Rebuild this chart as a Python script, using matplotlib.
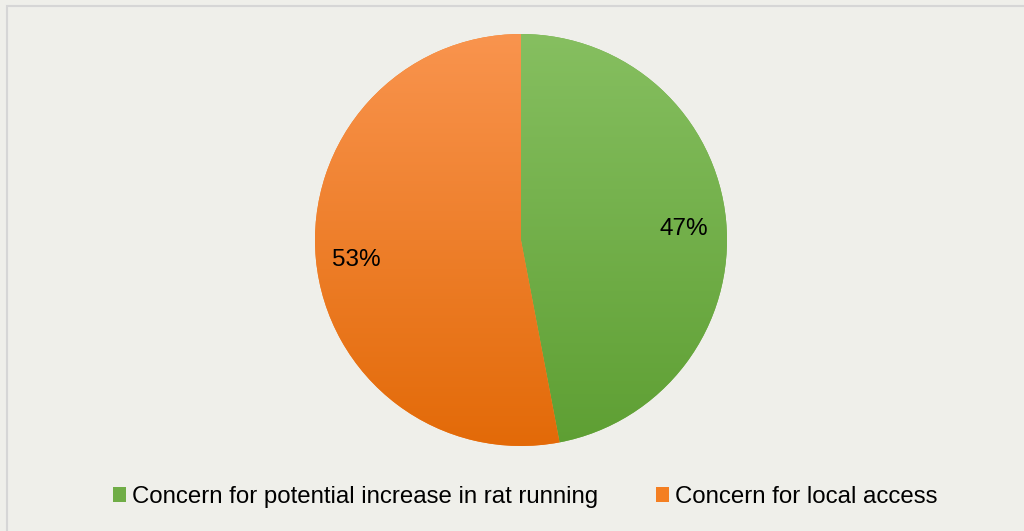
import matplotlib
matplotlib.use("Agg")
import matplotlib.pyplot as plt
import matplotlib.transforms as mtransforms
import numpy as np
from matplotlib.patches import Patch, Rectangle
from matplotlib.colors import LinearSegmentedColormap

categories = ["Concern for potential increase in rat running", "Concern for local access"]
values = [47, 53]
top_colors = ["#86BF60", "#F9944E"]
bottom_colors = ["#5E9F33", "#E36A08"]
mid_colors = ["#70AD47", "#F47F22"]

W, H = 1024, 531
fig = plt.figure(figsize=(W / 100, H / 100), dpi=100)
fig.patch.set_facecolor("#EFEFEA")
ax = fig.add_axes([0, 0, 1, 1])

cx, cy, r = 521, H - 240, 206
wedges, texts, autotexts = ax.pie(
    values, center=(cx, cy), radius=r, startangle=90, counterclock=False,
    autopct="%1.0f%%", pctdistance=0.8, colors=mid_colors, frame=True,
    textprops=dict(family="Liberation Sans", fontsize=17.5, color="black"),
    wedgeprops=dict(linewidth=0),
)
ax.set_xlim(0, W)
ax.set_ylim(0, H)
ax.set_aspect("equal")
ax.axis("off")

# chart border
ax.add_patch(Rectangle((6.5, -20), W + 20, H - 5.5 + 20, fill=False, edgecolor="#D6D6D6", linewidth=1.5, zorder=0))

grad = np.linspace(1, 0, 256).reshape(-1, 1)
for w, tc, bc in zip(wedges, top_colors, bottom_colors):
    cmap = LinearSegmentedColormap.from_list("g", [bc, tc])
    im = ax.imshow(grad, cmap=cmap, extent=(cx - r, cx + r, cy - r, cy + r),
                   aspect="auto", origin="upper", zorder=w.get_zorder() + 0.1, interpolation="bicubic")
    im.set_clip_path(w)
for t in autotexts:
    t.set_zorder(5)
    t.set_transform(mtransforms.offset_copy(ax.transData, fig=fig, x=-1, y=-4.5, units="dots"))
ax.set_xlim(0, W)
ax.set_ylim(0, H)

handles = [Patch(facecolor=c, edgecolor="none") for c in mid_colors]
leg = fig.legend(handles, categories, loc="center", bbox_to_anchor=(525 / W, 1 - 497 / H),
                 ncol=2, frameon=False, handlelength=0.55, handleheight=0.55, handletextpad=0.25,
                 columnspacing=2.4, borderpad=0, prop=dict(family="Liberation Sans", size=17.3))

fig.savefig("out.png", dpi=100, facecolor=fig.get_facecolor())
